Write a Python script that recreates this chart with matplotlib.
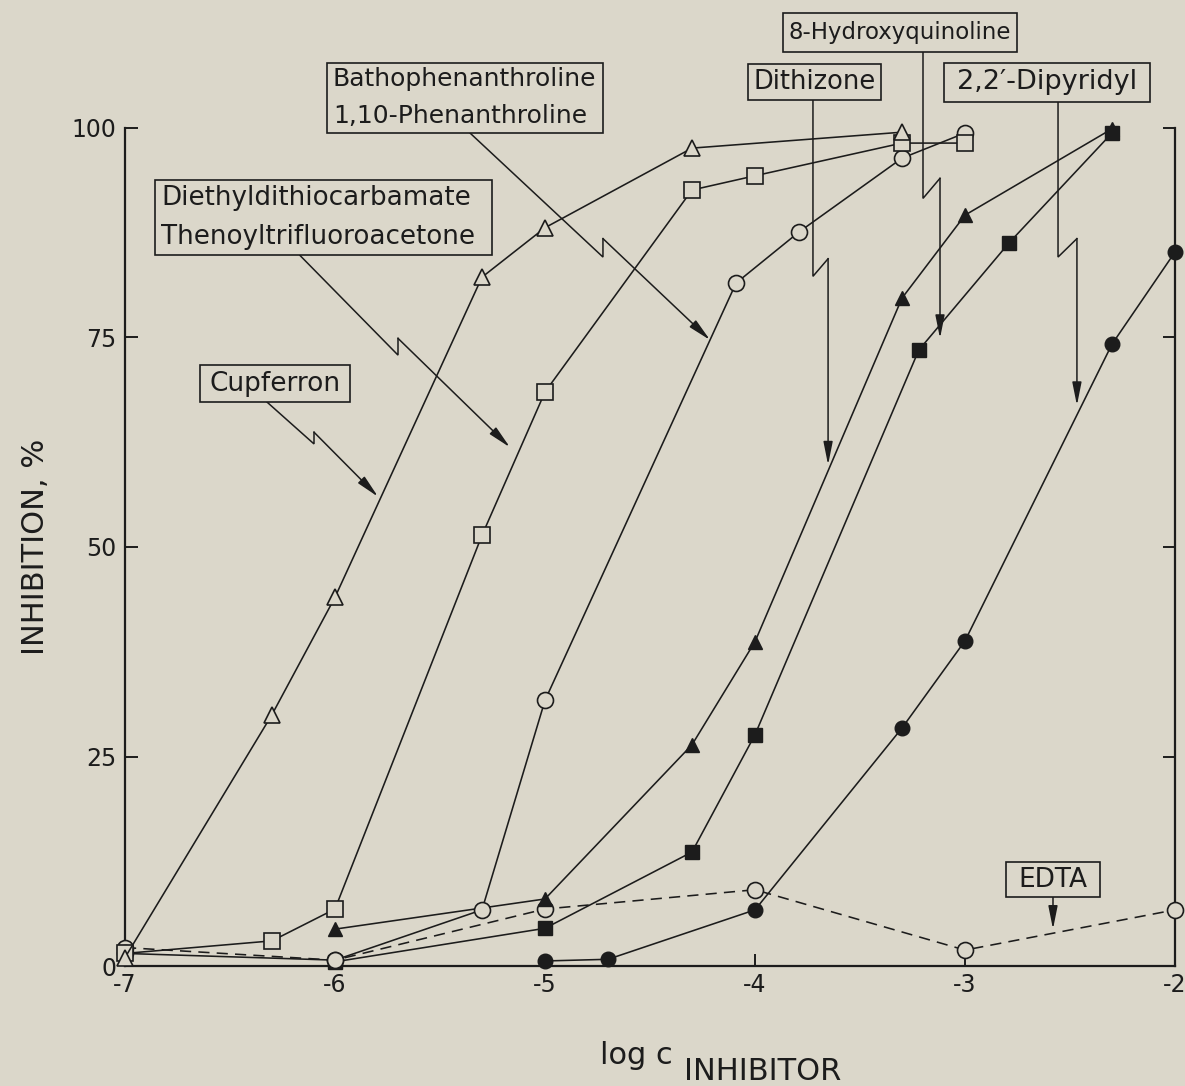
import matplotlib
matplotlib.use("Agg")
import matplotlib.pyplot as plt
from matplotlib.patches import Rectangle

# ---- data: log concentration of inhibitor vs. % inhibition ----
cupferron_x = [-7, -6.3, -6, -5.3, -5, -4.3, -3.3]
cupferron_y = [1.0, 30.0, 44.0, 82.2, 88.1, 97.6, 99.5]

ddc_x = [-7, -6.3, -6, -5.3, -5, -4.3, -4, -3.3, -3]
ddc_y = [1.5, 3.0, 6.8, 51.4, 68.5, 92.6, 94.3, 98.2, 98.2]

phen_x = [-7, -6, -5.3, -5, -4.09, -3.79, -3.3, -3]
phen_y = [1.5, 0.7, 6.7, 31.7, 81.5, 87.6, 96.4, 99.4]

dithizone_x = [-6, -5, -4.3, -4, -3.3, -3, -2.3]
dithizone_y = [4.4, 8.0, 26.4, 38.7, 79.7, 89.6, 99.9]

hq_x = [-6, -5, -4.3, -4, -3.22, -2.79, -2.3]
hq_y = [0.5, 4.5, 13.6, 27.6, 73.5, 86.3, 99.4]

dipyridyl_x = [-5, -4.7, -4, -3.3, -3, -2.3, -2]
dipyridyl_y = [0.6, 0.8, 6.7, 28.4, 38.8, 74.2, 85.2]

edta_x = [-7, -6, -5, -4, -3, -2]
edta_y = [2.2, 0.7, 6.8, 9.1, 1.9, 6.7]

x_ticks = [-7, -6, -5, -4, -3, -2]
y_ticks = [0, 25, 50, 75, 100]

PAPER = "#dbd7ca"
INK = "#1c1c1c"

plt.rcParams["font.family"] = ["DejaVu Sans"]
plt.rcParams["axes.unicode_minus"] = False

fig = plt.figure(figsize=(11.85, 10.86), dpi=100, facecolor=PAPER)
ax = fig.add_axes([125 / 1185, 120 / 1086, 1050 / 1185, 838 / 1086])
ax.set_facecolor(PAPER)

line_kw = dict(color=INK, lw=1.15, clip_on=False, zorder=3)
open_kw = dict(markerfacecolor=PAPER, markeredgecolor=INK, markeredgewidth=1.2)
fill_kw = dict(markerfacecolor=INK, markeredgecolor=INK, markeredgewidth=1.0)

ax.plot(edta_x, edta_y, ls=(0, (7, 4.5)), marker="o", ms=11.5, **open_kw, **line_kw)
ax.plot(dipyridyl_x, dipyridyl_y, marker="o", ms=10.5, **fill_kw, **line_kw)
ax.plot(hq_x, hq_y, marker="s", ms=10, **fill_kw, **line_kw)
ax.plot(dithizone_x, dithizone_y, marker="^", ms=10.5, **fill_kw, **line_kw)
ax.plot(phen_x, phen_y, marker="o", ms=11.5, **open_kw, **line_kw)
ax.plot(ddc_x, ddc_y, marker="s", ms=11.5, **open_kw, **line_kw)
ax.plot(cupferron_x, cupferron_y, marker="^", ms=11, **open_kw, **line_kw)

ax.set_xlim(-7, -2)
ax.set_ylim(0, 100)
ax.set_xticks(x_ticks)
ax.set_xticklabels([str(v) for v in x_ticks])
ax.set_yticks(y_ticks)
ax.set_yticklabels([str(v) for v in y_ticks])

for side in ("left", "bottom", "right"):
    ax.spines[side].set_linewidth(1.6)
    ax.spines[side].set_color(INK)
ax.spines["top"].set_visible(False)
ax.tick_params(axis="both", direction="in", length=9, width=1.4, colors=INK,
               labelsize=17)
ax.tick_params(axis="x", pad=5)
ax.tick_params(axis="y", right=True, pad=6)

ax.set_ylabel("INHIBITION, %", fontsize=22, color=INK, labelpad=16)

# x-axis label with subscript
fig.text(600 / 1185, 1 - 1064 / 1086, "log c", fontsize=22, color=INK,
         ha="left", va="baseline")
fig.text(684 / 1185, 1 - 1080 / 1086, "INHIBITOR", fontsize=22, color=INK,
         ha="left", va="baseline")

# ---- labelled boxes: text, extent (x0, x1, y0, y1), alignment, font size ----
boxes = [
    ("Bathophenanthroline\n1,10-Phenanthroline", (-6.038, -4.724, 99.4, 107.8), "left", 18),
    ("Diethyldithiocarbamate\nThenoyltrifluoroacetone", (-6.857, -5.252, 84.8, 93.8), "left", 18.8),
    ("Cupferron", (-6.643, -5.929, 67.3, 71.7), "center", 19),
    ("Dithizone", (-4.033, -3.40, 103.3, 107.6), "center", 18.5),
    ("8-Hydroxyquinoline", (-3.867, -2.752, 109.1, 113.7), "center", 16.5),
    ("2,2\u2032-Dipyridyl", (-3.10, -2.119, 103.1, 107.8), "center", 19.5),
    ("EDTA", (-2.805, -2.357, 8.2, 12.4), "center", 19),
]
for label, (x0, x1, y0, y1), align, size in boxes:
    ax.add_patch(Rectangle((x0, y0), x1 - x0, y1 - y0, facecolor=PAPER,
                           edgecolor=INK, lw=1.2, clip_on=False, zorder=5))
    if align == "left":
        tx, ha = x0 + 0.028, "left"
    else:
        tx, ha = (x0 + x1) / 2, "center"
    ax.text(tx, (y0 + y1) / 2, label, ha=ha, va="center", fontsize=size,
            color=INK, linespacing=1.68, zorder=6, clip_on=False)

# ---- zig-zag leader arrows ----
leaders = [
    [(-5.357, 99.4), (-4.724, 84.6), (-4.724, 86.8), (-4.214, 74.7)],
    [(-6.167, 84.8), (-5.70, 72.9), (-5.70, 74.9), (-5.167, 61.9)],
    [(-6.324, 67.3), (-6.10, 62.3), (-6.10, 63.7), (-5.795, 56.0)],
    [(-3.724, 103.3), (-3.724, 82.3), (-3.652, 84.4), (-3.652, 59.8)],
    [(-3.20, 109.1), (-3.20, 91.6), (-3.119, 94.0), (-3.119, 74.9)],
    [(-2.557, 103.1), (-2.557, 84.6), (-2.467, 86.8), (-2.467, 66.9)],
    [(-2.581, 8.2), (-2.581, 4.4)],
]
for path in leaders:
    xs = [p[0] for p in path[:-1]]
    ys = [p[1] for p in path[:-1]]
    if len(xs) > 1:
        ax.plot(xs, ys, color=INK, lw=1.1, clip_on=False, zorder=4,
                solid_joinstyle="miter")
    ax.annotate("", xy=path[-1], xytext=path[-2], annotation_clip=False,
                arrowprops=dict(arrowstyle="-|>,head_length=1.0,head_width=0.2",
                                color=INK, lw=1.1, shrinkA=0, shrinkB=0,
                                mutation_scale=14), zorder=4)

fig.savefig("out.png", dpi=100, facecolor=PAPER)
